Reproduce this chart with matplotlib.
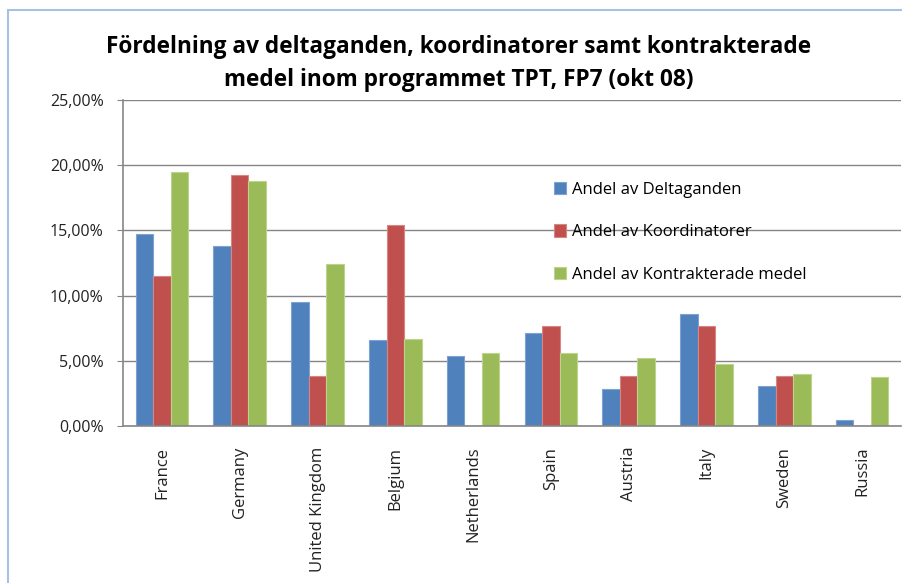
import matplotlib
matplotlib.use("Agg")
import matplotlib.pyplot as plt
import numpy as np
from matplotlib.patches import Rectangle

categories = ["France", "Germany", "United Kingdom", "Belgium", "Netherlands",
              "Spain", "Austria", "Italy", "Sweden", "Russia"]
deltaganden = [14.7, 13.8, 9.5, 6.6, 5.4, 7.1, 2.8, 8.6, 3.05, 0.45]
koordinatorer = [11.54, 19.23, 3.85, 15.38, 0.0, 7.69, 3.85, 7.69, 3.85, 0.0]
kontrakterade = [19.5, 18.8, 12.4, 6.7, 5.6, 5.6, 5.2, 4.75, 3.95, 3.75]
series_names = ["Andel av Deltaganden", "Andel av Koordinatorer", "Andel av Kontrakterade medel"]
yticks = [0, 5, 10, 15, 20, 25]
title = "Fördelning av deltaganden, koordinatorer samt kontrakterade\nmedel inom programmet TPT, FP7 (okt 08)"

colors = ["#4F81BD", "#C0504D", "#9BBB59"]
edge = ["#7FA3D1", "#D68683", "#BDD38E"]

plt.rcParams['font.family'] = ['Open Sans', 'DejaVu Sans']

fig = plt.figure(figsize=(9.03, 5.83), dpi=100)
# chart border (only top and left visible in the crop)
fig.patches.append(Rectangle((8/903, -0.05), 1.2, 1.05 - 10/583, transform=fig.transFigure,
                             fill=False, edgecolor="#A7C1E3", linewidth=1.5, zorder=0))

ax = fig.add_axes([123/903, 1 - 426/583, (901 - 123)/903, (426 - 100)/583])
x = np.arange(len(categories))
w = 0.225
for i, (vals, name) in enumerate(zip([deltaganden, koordinatorer, kontrakterade], series_names)):
    ax.bar(x + (i - 1) * w, vals, width=w, color=colors[i], edgecolor=edge[i], linewidth=0.8,
           label=name, zorder=3)

ax.set_xlim(-0.5, len(categories) - 0.5)
ax.set_ylim(0, 25)
ax.set_yticks(yticks)
ax.set_yticklabels([f"{t:.2f}%".replace(".", ",") for t in yticks], fontsize=11.5, color="#222222")
ax.set_xticks(x)
ax.set_xticklabels(categories, rotation=90, fontsize=12, color="#222222")
ax.tick_params(axis="x", length=0, pad=15)
ax.tick_params(axis="y", length=4, color="#868686", pad=10, direction="out")
ax.grid(axis="y", color="#868686", linewidth=1.0, zorder=1)
for s in ["top", "right"]:
    ax.spines[s].set_visible(False)
for s in ["left", "bottom"]:
    ax.spines[s].set_color("#868686")
    ax.spines[s].set_linewidth(1.2)
    ax.spines[s].set_zorder(4)

leg = ax.legend(loc="upper left", bbox_to_anchor=(0.545, 0.77), frameon=False, fontsize=12,
                handlelength=0.75, handleheight=0.75, handletextpad=0.35, labelspacing=1.6,
                borderaxespad=0)

fig.text(0.508, 1 - 63.5/583, title, ha="center", va="center", fontsize=16.3, fontweight="bold",
         linespacing=1.45)

fig.savefig("out.png", dpi=100)
